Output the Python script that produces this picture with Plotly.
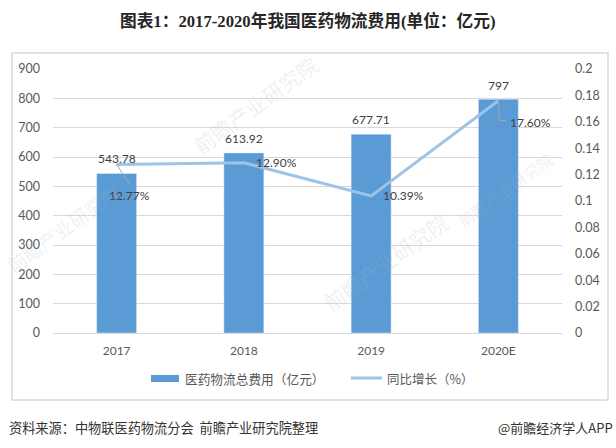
import plotly.graph_objects as go

# Data
years = ["2017", "2018", "2019", "2020E"]
cost = [543.78, 613.92, 677.71, 797]
growth = [0.1277, 0.129, 0.1039, 0.176]
growth_labels = ["12.77%", "12.90%", "10.39%", "17.60%"]

BAR = "#5B9BD5"
LINE = "#9DC3E6"
GRID = "#D9D9D9"
TEXT = "#595959"
FONT = "Lato, Noto Sans CJK SC, sans-serif"
CJK = "Noto Sans CJK SC"

W, H = 616, 448
L, R, T, B = 53, 54, 69, 115
pw, ph = W - L - R, H - T - B


def px(x):
    return (x - L) / pw


def py(y):
    return 1 - (y - T) / ph


def page_text(x, y, text, size, color, family=CJK, anchor="center"):
    return dict(x=px(x), y=py(y), xref="paper", yref="paper", text=text, showarrow=False,
                xanchor=anchor, yanchor="middle", font=dict(size=size, color=color, family=family))


fig = go.Figure()
fig.add_trace(go.Bar(x=years, y=cost, marker_color=BAR, width=0.314))
fig.add_trace(go.Scatter(x=years, y=growth, yaxis="y2", mode="lines",
                         line=dict(color=LINE, width=3)))

annotations = []

# Value labels above the bars (category axis: numeric-looking names need the index here)
label_shift = [15, 14, 15, 14]
for i, (v, s) in enumerate(zip(cost, label_shift)):
    annotations.append(dict(x=i, y=v, yref="y", text=str(v), showarrow=False, yshift=s,
                            font=dict(size=12, color="#404040")))

# Growth labels
offsets = [(13, 31), (33, 0), (32, 0), (32, 22)]
for i, (g, lab, (dx, dy)) in enumerate(zip(growth, growth_labels, offsets)):
    annotations.append(dict(x=i, y=g, yref="y2", text=lab, showarrow=False, xshift=dx, yshift=-dy,
                            font=dict(size=12, color="#404040")))

# Watermarks
for wx, wy, size in [(255, 105, 21), (62, 228, 19), (385, 262, 21), (505, 190, 16)]:
    wm = page_text(wx, wy, "前瞻产业研究院", size, "rgba(170,180,195,0.2)")
    wm["textangle"] = -36
    annotations.append(wm)

# Title, legend text, source line
annotations.append(page_text(307, 21, "<b>图表1：2017-2020年我国医药物流费用(单位：亿元)</b>", 16.7, "#262626",
                             family="Liberation Serif, Noto Sans CJK SC"))
annotations.append(page_text(183, 378, "医药物流总费用（亿元）", 12.7, TEXT, anchor="left"))
annotations.append(page_text(385, 378, "同比增长（%）", 12.5, TEXT, anchor="left"))
annotations.append(page_text(7, 427, "资料来源：中物联医药物流分会  前瞻产业研究院整理", 13.2, "#333333", anchor="left"))
annotations.append(page_text(615, 427, "@前瞻经济学人APP", 13, "#333333", anchor="right"))

shapes = [
    # outer frame
    dict(type="rect", xref="paper", yref="paper", x0=px(12), x1=px(608), y0=py(53), y1=py(400),
         line=dict(color=GRID, width=1.5), layer="below"),
    # legend keys
    dict(type="rect", xref="paper", yref="paper", x0=px(151), x1=px(179), y0=py(375), y1=py(382),
         fillcolor=BAR, line=dict(width=0)),
    dict(type="line", xref="paper", yref="paper", x0=px(351), x1=px(382), y0=py(378), y1=py(378),
         line=dict(color=LINE, width=3)),
    # leader lines
    dict(type="path", xref="x", yref="y2", xsizemode="pixel", ysizemode="pixel", xanchor=0, yanchor=growth[0],
         path="M 0 0 L 13 -20", line=dict(color="#A6A6A6", width=1)),
    dict(type="path", xref="x", yref="y2", xsizemode="pixel", ysizemode="pixel", xanchor=3, yanchor=growth[3],
         path="M 0 0 L 1 -20 L 8 -20", line=dict(color="#A6A6A6", width=1)),
]

fig.update_layout(
    width=W, height=H, margin=dict(l=L, r=R, t=T, b=B, pad=0),
    paper_bgcolor="white", plot_bgcolor="white",
    font=dict(family=FONT, color=TEXT, size=12),
    showlegend=False,
    xaxis=dict(type="category", showgrid=False, showline=True, linecolor=GRID, linewidth=1, ticks="",
               ticklabelstandoff=7, tickfont=dict(size=12)),
    yaxis=dict(range=[0, 900], dtick=100, gridcolor=GRID, gridwidth=1, zeroline=False, ticks="",
               ticklabelstandoff=12, tickfont=dict(size=12.5)),
    yaxis2=dict(range=[0, 0.2], dtick=0.02, overlaying="y", side="right", showgrid=False, zeroline=False,
                ticks="", ticklabelstandoff=12, tickfont=dict(size=12.5)),
    annotations=annotations,
    shapes=shapes,
)

# the page's default body margin would push the fixed-size figure off the window
fig.write_html("out.html", config=dict(displayModeBar=False), post_script="document.body.style.margin='0';")
